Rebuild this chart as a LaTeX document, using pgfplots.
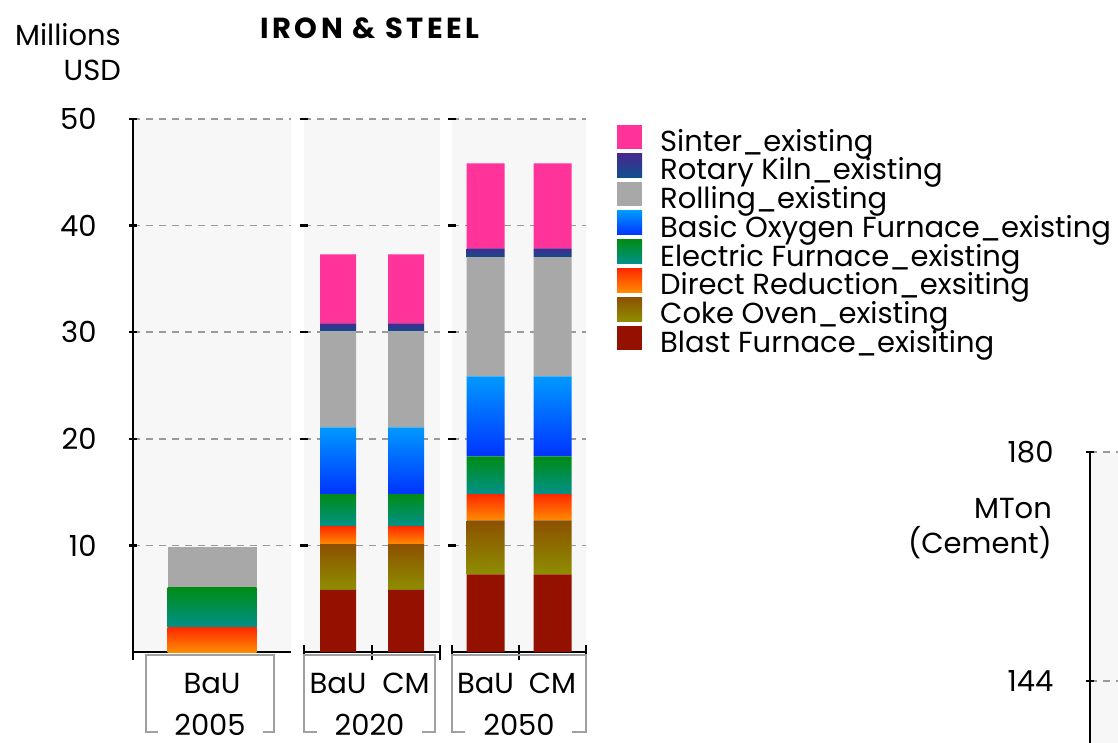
\documentclass[border=0pt]{standalone}
\usepackage{fontspec}
\setmainfont{Poppins}
\usepackage{pgfplots}
\pgfplotsset{compat=1.18}
\usepackage{pgfplotstable}

\definecolor{sinter}{HTML}{FF3399}
\definecolor{rkTop}{HTML}{4A2790}
\definecolor{rkBot}{HTML}{0E4F8C}
\definecolor{rolling}{HTML}{A8A8A8}
\definecolor{bofTop}{HTML}{0099FF}
\definecolor{bofBot}{HTML}{0033FF}
\definecolor{efTop}{HTML}{008C14}
\definecolor{efBot}{HTML}{00918A}
\definecolor{drTop}{HTML}{FF2800}
\definecolor{drBot}{HTML}{FF8C00}
\definecolor{coTop}{HTML}{8C5000}
\definecolor{coBot}{HTML}{8E8E00}
\definecolor{bfc}{HTML}{941100}
\definecolor{panelc}{HTML}{F7F7F7}
\definecolor{gridc}{HTML}{9A9A9A}
\definecolor{boxc}{HTML}{A0A0A0}

\pgfplotstableread{
x BF CO DR EF BOF RO RK SI
0 0 0 2.32 3.75 0 3.78 0 0
}\tA
\pgfplotstableread{
x BF CO DR EF BOF RO RK SI
0 5.83 4.29 1.70 3.00 6.26 9.03 0.72 6.47
1 5.83 4.29 1.70 3.00 6.26 9.03 0.72 6.47
}\tB
\pgfplotstableread{
x BF CO DR EF BOF RO RK SI
0 7.29 5.06 2.47 3.54 7.50 11.19 0.82 7.97
1 7.29 5.06 2.47 3.54 7.50 11.19 0.82 7.97
}\tC

\newcommand{\fs}{\fontsize{29}{35}\selectfont}

\pgfplotsset{
  panel/.style={
    ybar stacked, scale only axis, height=533pt,
    ymin=0, ymax=50, ytick={10,20,30,40,50},
    axis background/.style={fill=panelc},
    axis x line=bottom, axis y line=left,
    axis line style={-, line width=2.4pt, black},
    ymajorgrids=true,
    major grid style={gridc, line width=1.6pt, dash pattern=on 7pt off 6pt},
    every major x tick/.style={draw=none},
    major tick length=8pt, minor tick length=15pt, tick align=center,
    tick style={black, line width=2.2pt},
    tick label style={font=\fs},
    xticklabel style={anchor=base, yshift=-37pt},
    /pgf/number format/assume math mode=true,
    every axis plot/.append style={draw=none},
    legend image code/.code={\path[##1,draw=none] (0pt,-3pt) rectangle (25pt,21pt);},
  },
  pBF/.style={fill=bfc},
  pCO/.style={top color=coTop, bottom color=coBot},
  pDR/.style={top color=drTop, bottom color=drBot},
  pEF/.style={top color=efTop, bottom color=efBot},
  pBOF/.style={top color=bofTop, bottom color=bofBot},
  pRO/.style={fill=rolling},
  pRK/.style={top color=rkTop, bottom color=rkBot},
  pSI/.style={fill=sinter},
}

\begin{document}
\begin{tikzpicture}
\useasboundingbox (0pt,0pt) rectangle (1118pt,742pt);

% ---------- panel 2005
\begin{axis}[panel, at={(133pt,90pt)}, anchor=south west, width=158pt,
  xmin=-0.5, xmax=0.5, bar width=89pt,
  xtick={0}, xticklabels={BaU}, minor xtick={-0.5},
  yticklabel style={xshift=-29pt, anchor=east}]
\addplot[pBF] table[x=x,y=BF]{\tA};
\addplot[pCO] table[x=x,y=CO]{\tA};
\addplot[pDR] table[x=x,y=DR]{\tA};
\addplot[pEF] table[x=x,y=EF]{\tA};
\addplot[pBOF] table[x=x,y=BOF]{\tA};
\addplot[pRO] table[x=x,y=RO]{\tA};
\addplot[pRK] table[x=x,y=RK]{\tA};
\addplot[pSI] table[x=x,y=SI]{\tA};
\end{axis}

% ---------- panel 2020
\begin{axis}[panel, at={(304pt,90pt)}, anchor=south west, width=136pt,
  xmin=-0.5, xmax=1.5, bar width=36pt,
  xtick={0,1}, xticklabels={BaU,CM}, minor xtick={-0.5,0.5,1.5},
  yticklabels={}, y axis line style={draw=none}]
\addplot[pBF] table[x=x,y=BF]{\tB};
\addplot[pCO] table[x=x,y=CO]{\tB};
\addplot[pDR] table[x=x,y=DR]{\tB};
\addplot[pEF] table[x=x,y=EF]{\tB};
\addplot[pBOF] table[x=x,y=BOF]{\tB};
\addplot[pRO] table[x=x,y=RO]{\tB};
\addplot[pRK] table[x=x,y=RK]{\tB};
\addplot[pSI] table[x=x,y=SI]{\tB};
\end{axis}

% ---------- panel 2050
\begin{axis}[panel, at={(452pt,90pt)}, anchor=south west, width=134pt,
  xmin=-0.5, xmax=1.5, bar width=38pt,
  xtick={0,1}, xticklabels={BaU,CM}, minor xtick={-0.5,0.5,1.5},
  yticklabels={}, y axis line style={draw=none},
  reverse legend,
  legend style={at={(1.231,0.99)}, anchor=north west, draw=none, fill=none,
    font=\fs, inner sep=0pt, row sep=-6.6pt, column sep=18pt,
    nodes={inner sep=0pt, text height=20pt, text depth=8.7pt}},
  legend cell align=left]
\addplot[pBF] table[x=x,y=BF]{\tC};
\addlegendentry{Blast Furnace\_exisiting}
\addplot[pCO] table[x=x,y=CO]{\tC};
\addlegendentry{Coke Oven\_existing}
\addplot[pDR] table[x=x,y=DR]{\tC};
\addlegendentry{Direct Reduction\_exsiting}
\addplot[pEF] table[x=x,y=EF]{\tC};
\addlegendentry{Electric Furnace\_existing}
\addplot[pBOF] table[x=x,y=BOF]{\tC};
\addlegendentry{Basic Oxygen Furnace\_existing}
\addplot[pRO] table[x=x,y=RO]{\tC};
\addlegendentry{Rolling\_existing}
\addplot[pRK] table[x=x,y=RK]{\tC};
\addlegendentry{Rotary Kiln\_existing}
\addplot[pSI] table[x=x,y=SI]{\tC};
\addlegendentry{Sinter\_existing}
\end{axis}

% ---------- second (cement) chart, partly visible
\begin{axis}[scale only axis, at={(1090pt,290pt)}, anchor=north west,
  width=400pt, height=916pt, ymin=36, ymax=180, xmin=0, xmax=1,
  ytick={144,180}, xtick=\empty,
  axis background/.style={fill=panelc},
  axis x line=bottom, axis y line=left,
  axis line style={-, line width=2.4pt, black},
  ymajorgrids=true,
  major grid style={gridc, line width=1.6pt, dash pattern=on 7pt off 6pt},
  major tick length=8pt, tick align=center,
  tick style={black, line width=2.2pt},
  tick label style={font=\fs},
  yticklabel style={xshift=-29pt, anchor=east},
  /pgf/number format/assume math mode=true]
\end{axis}

% ---------- texts
\node[anchor=center, font=\fontsize{29}{32}\bfseries\selectfont\addfontfeatures{LetterSpace=12}] at (370pt,714pt) {IRON \& STEEL};
\node[anchor=north east, align=right, font=\fs, inner sep=0pt] at (121pt,719pt) {Millions\\USD};
\node[anchor=north east, align=right, font=\fs, inner sep=0pt] at (1052pt,244pt) {MTon\\(Cement)};

% ---------- group brackets
\draw[boxc, line width=2pt] (158pt,10pt) -- (146pt,10pt) -- (146pt,87pt) -- (274pt,87pt) -- (274pt,10pt) -- (263pt,10pt);
\draw[boxc, line width=2pt] (317pt,10pt) -- (304pt,10pt) -- (304pt,87pt) -- (435pt,87pt) -- (435pt,10pt) -- (422pt,10pt);
\draw[boxc, line width=2pt] (465pt,10pt) -- (452pt,10pt) -- (452pt,87pt) -- (586pt,87pt) -- (586pt,10pt) -- (572pt,10pt);
\node[anchor=base, font=\fs, inner sep=0pt, text depth=0pt] at (210pt,7pt) {2005};
\node[anchor=base, font=\fs, inner sep=0pt, text depth=0pt] at (369.5pt,7pt) {2020};
\node[anchor=base, font=\fs, inner sep=0pt, text depth=0pt] at (519pt,7pt) {2050};
\end{tikzpicture}
\end{document}
